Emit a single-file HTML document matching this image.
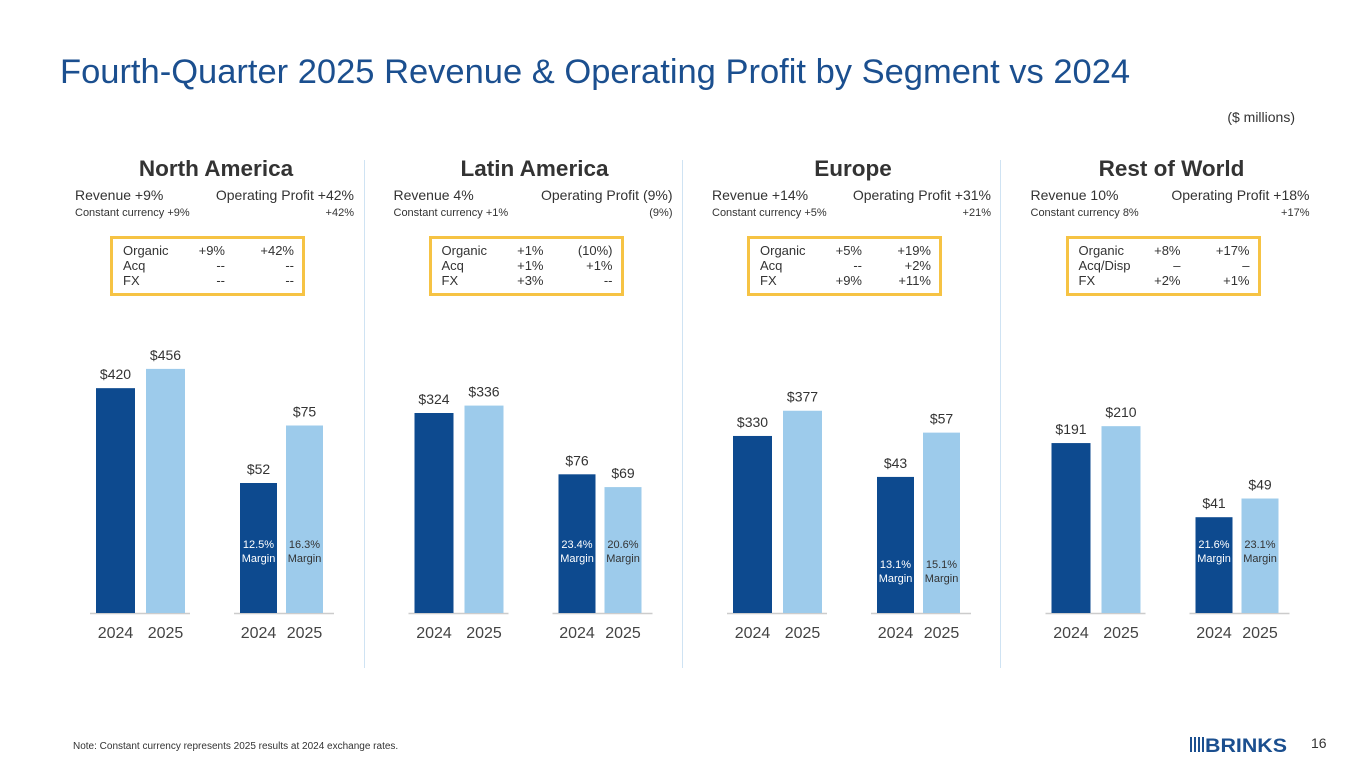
<!DOCTYPE html>
<html><head><meta charset="utf-8">
<style>
body{margin:0;width:1365px;height:768px;background:#fff;font-family:"Liberation Sans",Arial,sans-serif;position:relative;overflow:hidden;color:#333}
.abs{position:absolute}
.title{left:60px;top:53px;font-size:34.5px;color:#1b4f8f;white-space:nowrap}
.units{right:70px;top:109px;font-size:14px;color:#333}
.seg{position:absolute;top:156px;width:300px}
.seg h2{margin:0;position:absolute;top:0;width:300px;text-align:center;font-size:22.5px;font-weight:bold;color:#333}
.r1{position:absolute;top:31px;font-size:14px}
.r2{position:absolute;top:51px;font-size:11px}
.box{position:absolute;top:80px;left:44px;width:195px;height:60px;border:3px solid #f6c344;font-size:13px;line-height:15px;padding-top:4px;box-sizing:border-box}
.box div{position:relative;height:15px}
.box span{position:absolute}
.div{position:absolute;top:160px;width:1px;height:508px;background:#cfe3f3}
.note{left:73px;top:741px;font-size:10px;color:#333}
.pg{left:1311px;top:735px;font-size:14px;color:#333}
</style></head><body>
<div class="abs title">Fourth-Quarter 2025 Revenue &amp; Operating Profit by Segment vs 2024</div>
<div class="abs units">($ millions)</div>
<div class="div" style="left:364px"></div>
<div class="div" style="left:682px"></div>
<div class="div" style="left:1000px"></div>
<div id="segs"></div>
<svg id="chart" class="abs" style="left:0;top:0" width="1365" height="768"></svg>
<div class="abs note">Note: Constant currency represents 2025 results at 2024 exchange rates.</div>
<svg class="abs" style="left:1190px;top:735px" width="100" height="20">
<rect x="0" y="2" width="2" height="15" fill="#1b4f8f"/><rect x="4" y="2" width="2" height="15" fill="#1b4f8f"/><rect x="8" y="2" width="2" height="15" fill="#1b4f8f"/><rect x="12" y="2" width="2" height="15" fill="#1b4f8f"/>
<text x="15" y="17" font-family="Liberation Sans" font-weight="bold" font-size="19" fill="#1b4f8f" textLength="82" lengthAdjust="spacingAndGlyphs">BRINKS</text></svg>
<div class="abs pg">16</div>
<script>
const segments=["North America","Latin America","Europe","Rest of World"];
const revenue2024=[420,324,330,191];
const revenue2025=[456,336,377,210];
const profit2024=[52,76,43,41];
const profit2025=[75,69,57,49];
const margin2024=["12.5%","23.4%","13.1%","21.6%"];
const margin2025=["16.3%","20.6%","15.1%","23.1%"];
const revAxisMax=[467,405,466,281];
const profitAxisMax=[100,137,79,107];
const revText=["Revenue +9%","Revenue 4%","Revenue +14%","Revenue 10%"];
const opText=["Operating Profit +42%","Operating Profit (9%)","Operating Profit +31%","Operating Profit +18%"];
const ccRev=["Constant currency +9%","Constant currency +1%","Constant currency +5%","Constant currency 8%"];
const ccOp=["+42%","(9%)","+21%","+17%"];
const boxRows=[
 [["Organic","+9%","+42%"],["Acq","--","--"],["FX","--","--"]],
 [["Organic","+1%","(10%)"],["Acq","+1%","+1%"],["FX","+3%","--"]],
 [["Organic","+5%","+19%"],["Acq","--","+2%"],["FX","+9%","+11%"]],
 [["Organic","+8%","+17%"],["Acq/Disp","–","–"],["FX","+2%","+1%"]]];
const marginLabelY=[548,548,568,548];

const segs=document.getElementById('segs');
const svg=document.getElementById('chart');
const NS='http://www.w3.org/2000/svg';
const base=613,H=250,bw=39;
function y(v,max){return base-v/max*H;}
function el(tag,attrs,txt){const e=document.createElementNS(NS,tag);for(const k in attrs)e.setAttribute(k,attrs[k]);if(txt!=null)e.textContent=txt;svg.appendChild(e);return e;}
segments.forEach((s,i)=>{
 const off=i*318.5;
 const d=document.createElement('div');d.className='seg';d.style.left=(66+off)+'px';
 
 
 let h=`<h2>${s}</h2>
 <div class="r1" style="left:9px">${revText[i]}</div>
 <div class="r1" style="right:12px">${opText[i]}</div>
 <div class="r2" style="left:9px">${ccRev[i]}</div>
 <div class="r2" style="right:12px">${ccOp[i]}</div>
 <div class="box">`;
 boxRows[i].forEach(r=>{h+=`<div><span style="left:10px">${r[0]}</span><span style="right:77px">${r[1]}</span><span style="right:8px">${r[2]}</span></div>`;});
 h+='</div>';d.innerHTML=h;segs.appendChild(d);
 const groups=[[96+off,revenue2024[i],revenue2025[i],revAxisMax[i],false],[240+off,profit2024[i],profit2025[i],profitAxisMax[i],true]];
 groups.forEach(g=>{
  const [x0,v1,v2,mx,isP]=g;
  let ln=el('line',{x1:x0-6,x2:x0+bw*2+16,y1:base+0.5,y2:base+0.5,stroke:'#ccc','stroke-width':1.5});
  
  
  [[v1,'#0d4a8f',x0,'2024'],[v2,'#9dcbeb',x0+bw+(isP?7:11),'2025']].forEach((b,j)=>{
   const top=y(b[0],mx);
   const r=el('rect',{x:b[2],y:top,width:isP?37:39,height:base-top,fill:b[1]});
   
   
   const cx=b[2]+(isP?18.5:19.5);
   const t=el('text',{x:cx,y:top-9,'text-anchor':'middle','font-size':14,fill:'#333'},'$'+b[0]);
   
   
   const yl=el('text',{x:cx,y:638,'text-anchor':'middle','font-size':16,fill:'#444'},b[3]);
   
   
   if(isP){
    const col=j==0?'#fff':'#333';
    const m=el('text',{x:cx,y:marginLabelY[i],'text-anchor':'middle','font-size':11,fill:col},j==0?margin2024[i]:margin2025[i]);
    
    
    const m2=el('text',{x:cx,y:marginLabelY[i]+14,'text-anchor':'middle','font-size':11,fill:col},'Margin');
    
    
   }
  });
 });
});
</script>
</body></html>
